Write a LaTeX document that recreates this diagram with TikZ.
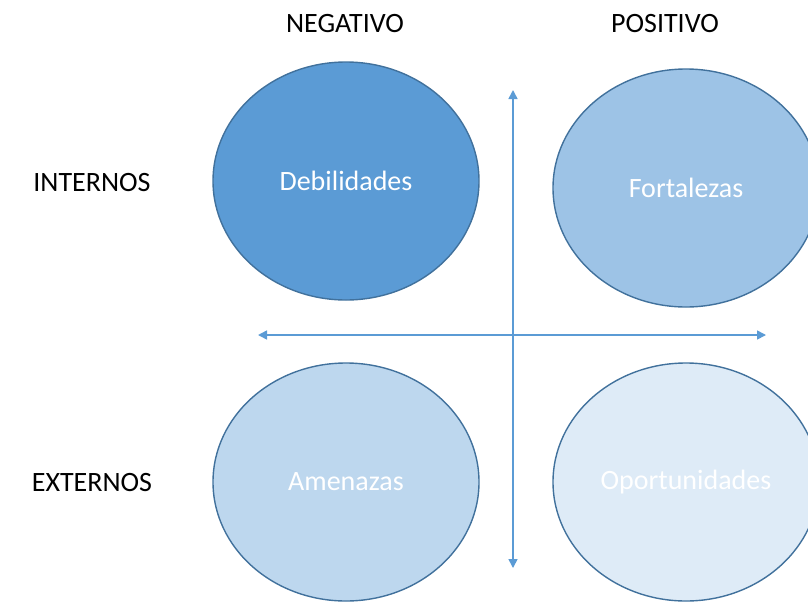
\documentclass[tikz,border=0pt]{standalone}
\usepackage{fontspec}
\setmainfont{Carlito}
\usetikzlibrary{shapes.geometric,arrows.meta}
\definecolor{c1}{HTML}{5B9BD5}
\definecolor{c2}{HTML}{9DC3E6}
\definecolor{c3}{HTML}{BDD7EE}
\definecolor{c4}{HTML}{DEEBF7}
\definecolor{edge}{HTML}{41719C}
\tikzset{
  blob/.style={ellipse, draw=edge, line width=1.4pt, minimum width=266pt, minimum height=238pt, text=white, font=\fontsize{28}{32}\selectfont, inner sep=0pt},
  lbl/.style={font=\fontsize{28}{32}\selectfont, text=black, inner sep=0pt},
  axis/.style={draw=c1, line width=1.6pt, {Triangle[length=9pt,width=9pt]}-{Triangle[length=9pt,width=9pt]}}
}
\begin{document}
\begin{tikzpicture}[x=1pt,y=-1pt]
\useasboundingbox (0,0) rectangle (808,603);
\begin{scope}
\clip (0,0) rectangle (808,603);
\node[blob, fill=c1] (deb) at (346,181) {Debilidades};
\node[blob, fill=c2] (for) at (686,188) {Fortalezas};
\node[blob, fill=c3] (ame) at (346,482) {Amenazas};
\node[blob, fill=c4] (opo) at (686,482) {Oportunidades};
\end{scope}
\node[lbl] (neg) at (345,24) {NEGATIVO};
\node[lbl] (pos) at (665,24) {POSITIVO};
\node[lbl] (int) at (92,183) {INTERNOS};
\node[lbl] (ext) at (92,483) {EXTERNOS};
\coordinate (vt) at (513,90);
\coordinate (vb) at (513,568);
\coordinate (hl) at (258,335);
\coordinate (hr) at (766,335);
\draw[axis] (vb) -- (vt);
\draw[axis] (hl) -- (hr);
\end{tikzpicture}
\end{document}
